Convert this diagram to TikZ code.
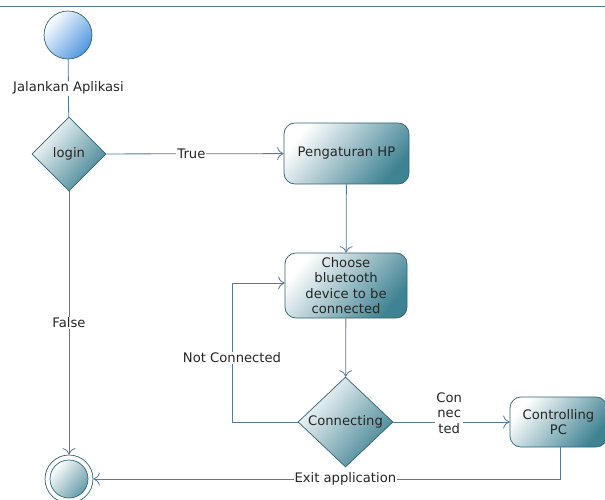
\documentclass[tikz,border=0pt]{standalone}
\usepackage{fontspec}
\setmainfont{DejaVu Sans}
\usetikzlibrary{shapes.geometric,arrows.meta}
\definecolor{edgeblue}{HTML}{56799E}
\definecolor{rimteal}{HTML}{2F6474}
\definecolor{deepteal}{HTML}{3F8292}
\definecolor{startblue}{HTML}{4F97DF}
\tikzset{
  txt/.style={font=\fontsize{13.2}{15.6}\selectfont, text=black!85},
  flow/.style={draw=edgeblue, line width=0.8pt},
  arr/.style={flow, -{To[length=6.5pt,width=13pt,line width=0.8pt]}},
  tealfill/.style={shading=axis, top color=white, bottom color=deepteal, shading angle=50},
  actbox/.style={draw=rimteal, line width=0.7pt, rounded corners=11pt, tealfill,
    align=center, inner sep=1pt, txt},
  decide/.style={diamond, draw=rimteal, line width=0.7pt, tealfill, inner sep=0pt, txt},
  lbl/.style={fill=white, inner sep=1pt, txt},
}
\begin{document}
\begin{tikzpicture}[x=1bp,y=-1bp]
  \useasboundingbox (0,0) rectangle (605,500);
  % frame line along the top
  \draw[edgeblue, line width=0.9pt] (0,6) -- (605,6);

  % start state
  \node[circle, draw=rimteal, line width=0.7pt, minimum size=48bp, inner sep=0pt,
        shading=axis, top color=white, bottom color=startblue, shading angle=50]
        (start) at (68,35) {};

  % decisions and activities
  \node[decide, minimum width=74bp, minimum height=74bp] (login) at (69,154) {login};
  \node[actbox, minimum width=125bp, minimum height=61bp] (hp) at (346.5,153.5) {Pengaturan HP};
  \node[actbox, minimum width=122bp, minimum height=65bp] (choose) at (346,285.5)
        {Choose\\bluetooth\\device to be\\connected};
  \node[decide, minimum width=95bp, minimum height=90bp] (conn) at (345.5,422) {Connecting};
  \node[actbox, minimum width=97bp, minimum height=50bp] (pc) at (558.5,422) {Controlling\\PC};

  % end state
  \node[circle, draw=rimteal, line width=0.7pt, fill=white, minimum size=48bp, inner sep=0pt]
        (end) at (69,479) {};
  \node[circle, draw=rimteal, line width=0.7pt, minimum size=38bp, inner sep=0pt,
        shading=axis, top color=white, bottom color=deepteal!80, shading angle=50]
        (endin) at (end.center) {};

  % transitions
  \draw[flow] (start) -- node[lbl] {Jalankan Aplikasi} (login);
  \draw[arr] (login) -- node[lbl, pos=0.48] {True} (hp);
  \draw[arr] (login) -- node[lbl, pos=0.5] {False} (end);
  \draw[arr] (hp) -- (choose);
  \draw[arr] (choose) -- (conn);
  \coordinate (nc1) at (232,422);
  \coordinate (nc2) at (232,283);
  \draw[arr] (conn.west) -- (nc1) -- node[lbl, pos=0.46] {Not Connected} (nc2) -- (nc2 -| choose.west);
  \draw[arr] (conn.east) -- node[lbl, align=center, pos=0.48, yshift=9bp] {Con\\nec\\ted} (pc.west);
  \coordinate (ex) at (560,479);
  \draw[arr] (pc.south -| ex) -- (ex) -- node[lbl, pos=0.46] {Exit application} (end.east |- ex);
\end{tikzpicture}
\end{document}
